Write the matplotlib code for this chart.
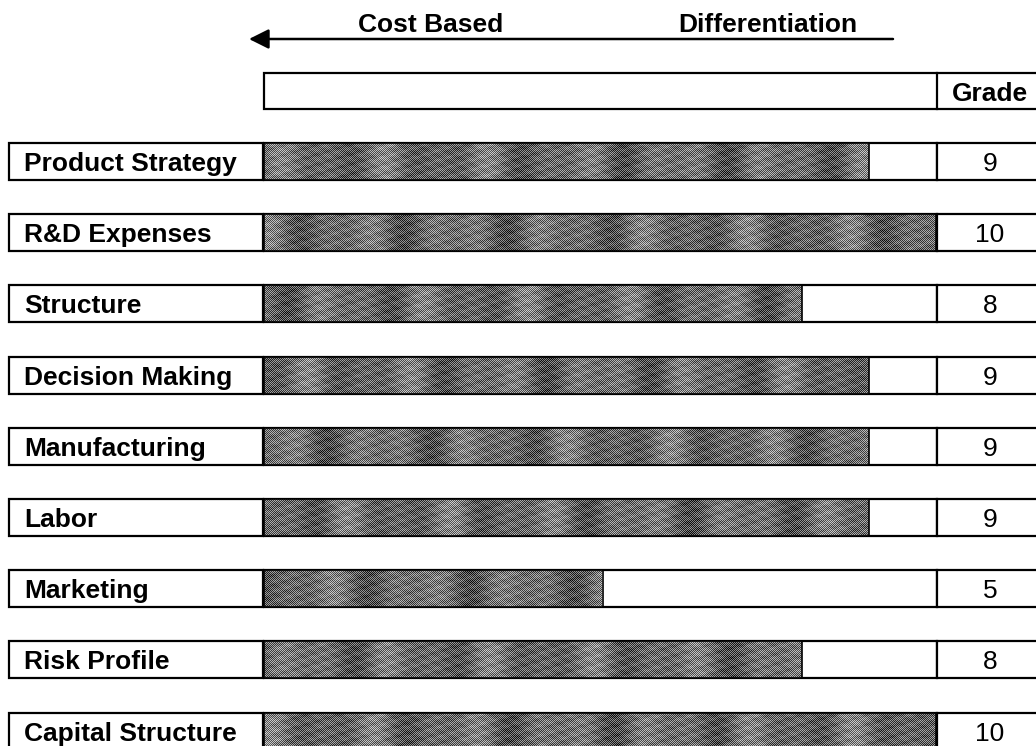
import numpy as np
import matplotlib.pyplot as plt
from matplotlib.patches import Rectangle

# data
categories = ['Product Strategy', 'R&D Expenses', 'Structure', 'Decision Making',
              'Manufacturing', 'Labor', 'Marketing', 'Risk Profile', 'Capital Structure']
grades = [9, 10, 8, 9, 9, 9, 5, 8, 10]
direction_labels = ['Cost Based', 'Differentiation']
grade_title = 'Grade'

plt.rcParams['font.family'] = ['Liberation Sans', 'DejaVu Sans']

fig = plt.figure(figsize=(10.36, 7.46), dpi=100)
ax = fig.add_axes([0, 0, 1, 1])

# layout in pixels
LAB_L, LAB_R = 9, 263
BOX_L, BOX_R = 264, 937
X0, UNIT = 269.5, 66.6      # grade 0 and one grade step
ROW_TOP, ROW_STEP, ROW_H = 143, 71.2, 37
LW = 1.6
FS = 19

tops = [ROW_TOP + i * ROW_STEP for i in range(len(categories))]
centers = [t + ROW_H / 2 for t in tops]

# arrow + direction texts
ax.annotate('', xy=(249, 39), xytext=(893, 39),
            arrowprops=dict(arrowstyle='-|>', color='black', lw=1.8,
                            mutation_scale=30, shrinkA=0, shrinkB=0))
ax.text(358, 32, direction_labels[0], fontsize=FS, fontweight='bold', ha='left', va='baseline')
ax.text(857, 32, direction_labels[1], fontsize=FS, fontweight='bold', ha='right', va='baseline')

# header box
ax.add_patch(Rectangle((BOX_L, 73), 1100 - BOX_L, 36, facecolor='white', edgecolor='black', lw=LW))
ax.plot([BOX_R, BOX_R], [73, 109], color='black', lw=LW)
ax.text(990, 101, grade_title, fontsize=FS, fontweight='bold', ha='center', va='baseline')

# row boxes
for t, name, g in zip(tops, categories, grades):
    ax.add_patch(Rectangle((LAB_L, t), LAB_R - LAB_L, ROW_H, facecolor='white', edgecolor='black', lw=LW))
    ax.add_patch(Rectangle((BOX_L, t), BOX_R - BOX_L, ROW_H, facecolor='white', edgecolor='black', lw=LW))
    ax.add_patch(Rectangle((BOX_R, t), 1100 - BOX_R, ROW_H, facecolor='white', edgecolor='black', lw=LW))
    ax.text(24, t + 28, name, fontsize=FS, fontweight='bold', ha='left', va='baseline')
    ax.text(990, t + 28, str(g), fontsize=FS, ha='center', va='baseline')

# bars
widths = [X0 + g * UNIT - BOX_L for g in grades]
bars = ax.barh(centers, widths, left=BOX_L, height=ROW_H, facecolor='none',
               edgecolor='black', lw=1.2, zorder=4)

# dithered gray texture, a bit like the scanned fill
for i, b in enumerate(bars):
    w = int(round(b.get_width()))
    xx, yy = np.meshgrid(np.arange(w), np.arange(ROW_H))
    base = (0.42 + 0.07 * np.sin(2 * np.pi * xx / 97 + i * 1.7)
            + 0.05 * np.sin(2 * np.pi * xx / 53 + i * 0.9)
            + 0.04 * np.sin(2 * np.pi * (xx + 3 * yy) / 31 + i)
            + 0.03 * np.sin(2 * np.pi * (xx - 2 * yy) / 17 + 2 * i)
            + 0.03 * np.sin(xx * 0.61 + yy * 1.3) * np.sin(xx * 0.23 + i))
    checker = ((xx + yy) % 2) * 2 - 1
    tex = np.clip(base + 0.22 * checker, 0, 1)
    im = ax.imshow(tex, cmap='gray', vmin=0, vmax=1, interpolation='nearest',
                   extent=(b.get_x(), b.get_x() + w, b.get_y() + ROW_H, b.get_y()),
                   zorder=3)
    im.set_clip_path(b)

ax.set_aspect('auto')
ax.set_xlim(0, 1036)
ax.set_ylim(746, 0)
ax.axis('off')

plt.savefig('out.png', dpi=100)
